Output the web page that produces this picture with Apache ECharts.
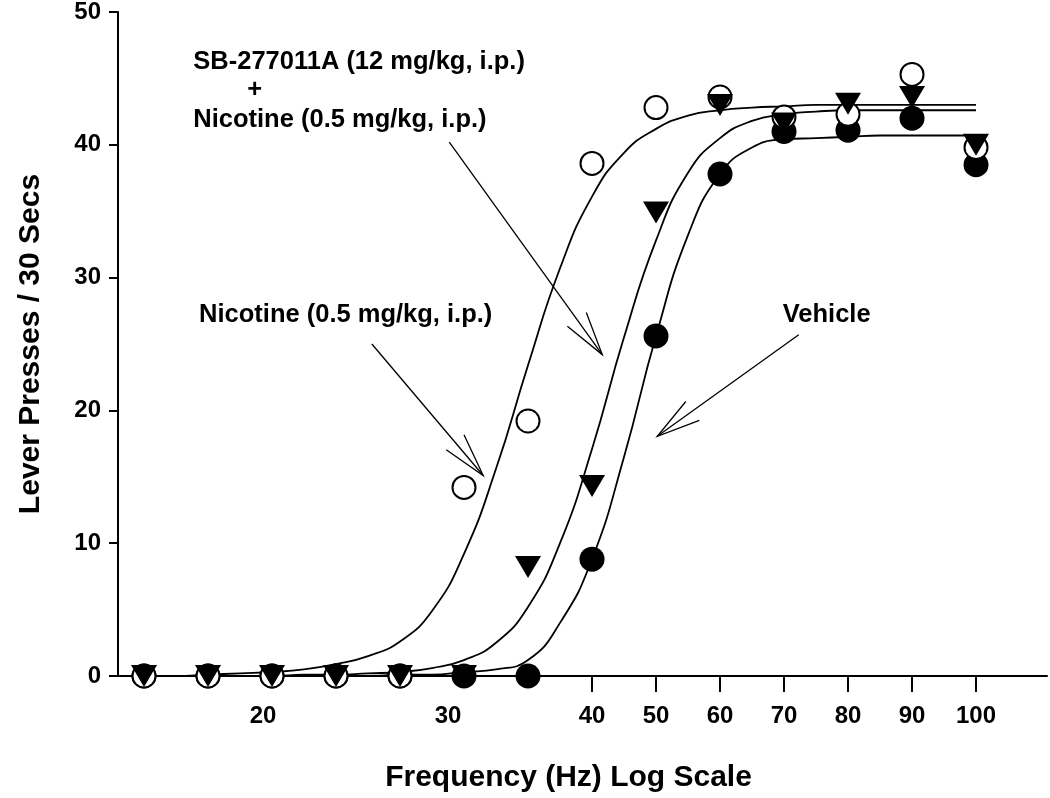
<!DOCTYPE html>
<html>
<head>
<meta charset="utf-8">
<title>Lever Presses / 30 Secs</title>
<script src="https://cdn.jsdelivr.net/npm/echarts@6.0.0/dist/echarts.min.js"></script>
<style>
  html, body { margin: 0; padding: 0; background: #fff; }
  #main { width: 1050px; height: 798px; }
</style>
</head>
<body>
<div id="main"></div>
<script>
// frequency steps as printed on the (log) axis, one per tested frequency
var steps = [0, 1, 2, 3, 4, 5, 6, 7, 8, 9, 10, 11, 12, 13];

// lever presses / 30 s
var vehicle    = [0, 0, 0, 0, 0, 0, 0, 8.8, 25.6, 37.8, 41.0, 41.1, 42.0, 38.5];
var nicotine   = [0, 0, 0, 0, 0, 14.2, 19.2, 38.6, 42.8, 43.6, 42.1, 42.3, 45.3, 39.8];
var sbNicotine = [0, 0, 0, 0, 0, 0, 8.2, 14.3, 34.9, 43.0, 41.6, 43.1, 43.6, 40.0];

// fitted curves, every half step
var fitSteps = [0, 0.5, 1, 1.5, 2, 2.5, 3, 3.5, 4, 4.5, 5, 5.5, 6, 6.5, 7, 7.5, 8, 8.5, 9, 9.5, 10, 10.5, 11, 11.5, 12, 12.5, 13];
var nicotineFit   = [0, 0, 0.1, 0.2, 0.3, 0.5, 0.9, 1.5, 2.6, 4.9, 9.2, 15.6, 23.4, 30.7, 36.1, 39.4, 41.2, 42.2, 42.6, 42.8, 42.9, 43.0, 43.0, 43.0, 43.0, 43.0, 43.0];
var sbNicotineFit = [0, 0, 0, 0, 0, 0.1, 0.1, 0.2, 0.3, 0.6, 1.2, 2.5, 5.2, 10.0, 17.1, 25.5, 32.8, 37.9, 40.5, 41.8, 42.3, 42.5, 42.6, 42.6, 42.6, 42.6, 42.6];
var vehicleFit    = [0, 0, 0, 0, 0, 0, 0, 0, 0.1, 0.1, 0.3, 0.5, 1.2, 4.0, 8.8, 16.5, 25.6, 33.2, 37.8, 39.8, 40.4, 40.5, 40.6, 40.7, 40.7, 40.7, 40.7];

// x tick labels (20 and 30 have no tick mark)
var xLabelPos  = [1.86, 4.75, 7, 8, 9, 10, 11, 12, 13];
var xLabelText = ['20', '30', '40', '50', '60', '70', '80', '90', '100'];
var xTickPos   = [7, 8, 9, 10, 11, 12, 13];

// annotations, in data coordinates
var notes = [
  { text: 'SB-277011A (12 mg/kg, i.p.)', at: [0.77, 46.2], align: 'left' },
  { text: '+', at: [1.73, 44.1], align: 'center' },
  { text: 'Nicotine (0.5 mg/kg, i.p.)', at: [0.77, 41.9], align: 'left' },
  { text: 'Nicotine (0.5 mg/kg, i.p.)', at: [0.86, 27.2], align: 'left' },
  { text: 'Vehicle', at: [9.98, 27.2], align: 'left' }
];
var arrows = [
  [[4.77, 40.2], [7.16, 24.2]],
  [[3.56, 25.0], [5.30, 15.1]],
  [[10.23, 25.7], [8.02, 18.05]]
];

var FONT = '"Liberation Sans", Arial, sans-serif';

function pairs(xs, ys) {
  return xs.map(function (x, i) { return [x, ys[i]]; });
}

function fitLine(data) {
  return {
    type: 'line',
    data: data,
    showSymbol: false,
    smooth: 0.5,
    clip: false,
    z: 2,
    lineStyle: { color: '#000', width: 1.8 },
    silent: true
  };
}

var chart = echarts.init(document.getElementById('main'));

var option = {
  backgroundColor: '#fff',
  animation: false,
  grid: { left: 118, right: 3, top: 12, bottom: 121 },
  xAxis: {
    type: 'value',
    min: -0.40625,
    max: 14.109,
    name: 'Frequency (Hz) Log Scale',
    nameLocation: 'middle',
    nameGap: 87,
    nameTextStyle: {
      fontFamily: FONT, fontWeight: 'bold', fontSize: 30, color: '#000',
      padding: [0, 28, 0, 0]
    },
    axisLine: { lineStyle: { color: '#000', width: 2 } },
    axisTick: { customValues: xTickPos, length: 16, lineStyle: { color: '#000', width: 2 } },
    axisLabel: {
      customValues: xLabelPos,
      margin: 28,
      fontFamily: FONT, fontWeight: 'bold', fontSize: 24, color: '#000',
      formatter: function (v) {
        for (var i = 0; i < xLabelPos.length; i++) {
          if (Math.abs(xLabelPos[i] - v) < 1e-6) return xLabelText[i];
        }
        return '';
      }
    },
    splitLine: { show: false }
  },
  yAxis: {
    type: 'value',
    min: 0,
    max: 50,
    interval: 10,
    name: 'Lever Presses / 30 Secs',
    nameLocation: 'middle',
    nameGap: 72,
    nameRotate: 90,
    nameTextStyle: { fontFamily: FONT, fontWeight: 'bold', fontSize: 30, color: '#000' },
    axisLine: { show: true, onZero: false, lineStyle: { color: '#000', width: 2 } },
    axisTick: { show: true, length: 9, lineStyle: { color: '#000', width: 2 } },
    axisLabel: { margin: 17, fontFamily: FONT, fontWeight: 'bold', fontSize: 24, color: '#000' },
    splitLine: { show: false }
  },
  series: [
    fitLine(pairs(fitSteps, vehicleFit)),
    fitLine(pairs(fitSteps, sbNicotineFit)),
    fitLine(pairs(fitSteps, nicotineFit)),
    {
      name: 'Vehicle',
      type: 'scatter',
      data: pairs(steps, vehicle),
      symbol: 'circle',
      symbolSize: 25,
      clip: false,
      z: 3,
      itemStyle: { color: '#000', opacity: 1 }
    },
    {
      name: 'Nicotine (0.5 mg/kg, i.p.)',
      type: 'scatter',
      data: pairs(steps, nicotine),
      symbol: 'circle',
      symbolSize: 23,
      clip: false,
      z: 4,
      itemStyle: { color: '#fff', borderColor: '#000', borderWidth: 2, opacity: 1 }
    },
    {
      name: 'SB-277011A + Nicotine',
      type: 'scatter',
      data: pairs(steps, sbNicotine),
      symbol: 'triangle',
      symbolRotate: 180,
      symbolSize: [26, 22],
      clip: false,
      z: 5,
      itemStyle: { color: '#000', opacity: 1 }
    }
  ]
};

chart.setOption(option);

// text labels and open-headed arrows placed from data coordinates
function toPx(p) { return chart.convertToPixel({ gridIndex: 0 }, p); }

var graphics = [];
notes.forEach(function (n) {
  var p = toPx(n.at);
  graphics.push({
    type: 'text',
    x: p[0],
    y: p[1],
    z: 10,
    style: {
      text: n.text,
      font: 'bold 25.5px ' + FONT,
      fill: '#000',
      align: n.align, textAlign: n.align,
      verticalAlign: 'middle', textVerticalAlign: 'middle'
    }
  });
});

var HEAD = 45, SPREAD = 15 * Math.PI / 180;
arrows.forEach(function (a) {
  var s = toPx(a[0]), t = toPx(a[1]);
  var ang = Math.atan2(s[1] - t[1], s[0] - t[0]);
  var b1 = [t[0] + HEAD * Math.cos(ang + SPREAD), t[1] + HEAD * Math.sin(ang + SPREAD)];
  var b2 = [t[0] + HEAD * Math.cos(ang - SPREAD), t[1] + HEAD * Math.sin(ang - SPREAD)];
  graphics.push({
    type: 'polyline', z: 10,
    shape: { points: [s, t] },
    style: { stroke: '#000', lineWidth: 1.3, fill: null }
  });
  graphics.push({
    type: 'polyline', z: 10,
    shape: { points: [b1, t, b2] },
    style: { stroke: '#000', lineWidth: 1.3, fill: null }
  });
});

chart.setOption({ graphic: graphics });
</script>
</body>
</html>
